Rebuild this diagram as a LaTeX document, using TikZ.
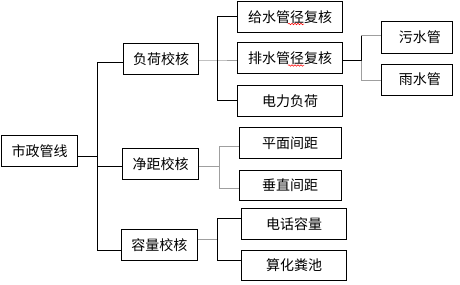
\documentclass[tikz,border=0pt]{standalone}
\usepackage{fontspec}
\newfontfamily\cjk{Noto Sans CJK SC}
\usetikzlibrary{decorations.pathmorphing}
\tikzset{
  box/.style={draw=black, line width=0.8pt, fill=white, inner sep=0pt,
    minimum height=30.7pt, font=\cjk\fontsize{14}{15}\selectfont},
  ln/.style={draw=black, line width=0.8pt},
  gl/.style={draw=gray!75, line width=1pt},
  squig/.style={draw=red, line width=0.5pt, decorate,
    decoration={snake, amplitude=0.8pt, segment length=3pt}}
}
\begin{document}
\begin{tikzpicture}[x=1pt,y=-1pt]
\useasboundingbox (0,0) rectangle (460,284);
% nodes
\node[box, minimum width=76.4pt] (root) at (39.5,150.7) {市政管线};
\node[box, minimum width=75.4pt] (fh) at (161,58.7) {负荷校核};
\node[box, minimum width=76pt] (jj) at (160.7,164) {净距校核};
\node[box, minimum width=76pt] (rl) at (159.3,244.7) {容量校核};
\node[box, minimum width=105.4pt] (gs) at (290,17) {给水管径复核};
\node[box, minimum width=105.4pt] (ps) at (290,57.8) {排水管径复核};
\node[box, minimum width=105.4pt] (dl) at (290,100.8) {电力负荷};
\node[box, minimum width=102pt] (pm) at (290,143) {平面间距};
\node[box, minimum width=102pt] (cz) at (290,185.3) {垂直间距};
\node[box, minimum width=105.4pt] (dh) at (294,223.7) {电话容量};
\node[box, minimum width=105.4pt] (hf) at (294,265.3) {算化粪池};
\node[box, minimum width=71.7pt, minimum height=31.6pt] (ws) at (416.8,37.5) {\hspace{6pt}污水管};
\node[box, minimum width=71.7pt, minimum height=31pt] (ys) at (416.8,79.5) {\hspace{6pt}雨水管};
% junction coordinates
\coordinate (t0) at (97.3,156);
\coordinate (t1) at (97.3,62);
\coordinate (t2) at (97.3,166.7);
\coordinate (t3) at (97.3,250);
\coordinate (f0) at (217.3,60);
\coordinate (f1) at (217.3,16);
\coordinate (f2) at (217.3,100);
\coordinate (p0) at (361.3,60.7);
\coordinate (p1) at (361.3,35.3);
\coordinate (p2) at (361.3,80.3);
\coordinate (j0) at (219,166);
\coordinate (j1) at (219,146.7);
\coordinate (j2) at (219,188.3);
\coordinate (r0) at (217.3,239.3);
\coordinate (r1) at (217.3,218.3);
\coordinate (r2) at (217.3,260);
% trunk
\draw[ln] (root.east |- t0) -- (t0);
\draw[ln] (fh.west |- t1) -- (t1) -- (t3) -- (rl.west |- t3);
\draw[ln] (t2) -- (jj.west |- t2);
% 负荷校核 group
\draw[gl] (fh.east |- f0) -- (f0) -- (ps.west |- f0);
\draw[ln] (gs.west |- f1) -- (f1) -- (f2) -- (dl.west |- f2);
% 排水管径复核 group
\draw[ln] (ps.east |- p0) -- (p0) -- (p1);
\draw[gl] (p0) -- (p2);
\draw[gl] (p1) -- (ws.west |- p1);
\draw[gl] (p2) -- (ys.west |- p2);
% 净距校核 group
\draw[gl] (jj.east |- j0) -- (j0);
\draw[gl] (pm.west |- j1) -- (j1) -- (j2) -- (cz.west |- j2);
% 容量校核 group
\draw[gl] (rl.east |- r0) -- (r0);
\draw[ln] (dh.west |- r1) -- (r1) -- (r2) -- (hf.west |- r2);
% spell-check squiggles
\draw[squig] (288,24) -- (304,24);
\draw[squig] (288,65.5) -- (304,65.5);
\end{tikzpicture}
\end{document}
